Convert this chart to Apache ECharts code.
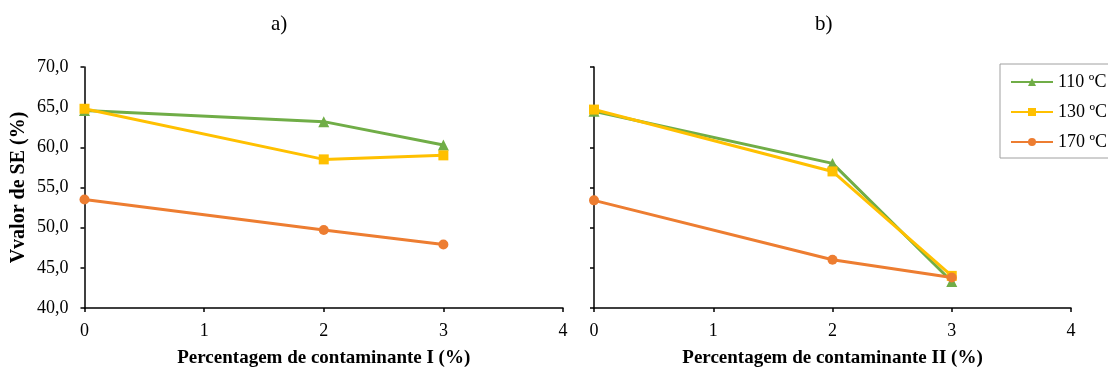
<!DOCTYPE html>
<html>
<head>
<meta charset="utf-8">
<script src="https://cdn.jsdelivr.net/npm/echarts@6/dist/echarts.min.js"></script>
<style>
  html, body { margin: 0; padding: 0; background: #fff; }
  #chart { width: 1108px; height: 374px; }
</style>
</head>
<body>
<div id="chart"></div>
<script>
// Contaminant percentage (%) on the x axis
const percentages = [0, 2, 3];
const seriesNames = ['110 ºC', '130 ºC', '170 ºC'];

// SE value (%) with contaminant I
const contI_110 = [64.6, 63.2, 60.3];
const contI_130 = [64.8, 58.5, 59.0];
const contI_170 = [53.5, 49.7, 47.9];

// SE value (%) with contaminant II
const contII_110 = [64.5, 58.0, 43.3];
const contII_130 = [64.7, 57.0, 44.0];
const contII_170 = [53.4, 46.0, 43.8];

const colors = ['#70AD47', '#FFC000', '#ED7D31'];
const symbols = ['triangle', 'rect', 'circle'];
const FONT = '"Liberation Serif", "Times New Roman", serif';

function pairs(values) {
  return percentages.map((p, i) => [p, values[i]]);
}

function lineSeries(idx, name, values, colorIdx) {
  return {
    name: name,
    type: 'line',
    xAxisIndex: idx,
    yAxisIndex: idx,
    data: pairs(values),
    symbol: symbols[colorIdx],
    symbolSize: colorIdx === 0 ? 11 : 10,
    color: colors[colorIdx],
    lineStyle: { width: 3, color: colors[colorIdx] },
    itemStyle: { color: colors[colorIdx] },
    animation: false,
    z: 2 + colorIdx
  };
}

const axisLineStyle = { show: true, lineStyle: { color: '#000', width: 1.5 } };
const tickStyle = { show: true, length: 4, inside: false, lineStyle: { color: '#000', width: 1.5 } };

function xAxis(idx, title) {
  return {
    type: 'value',
    gridIndex: idx,
    min: 0, max: 4, interval: 1,
    axisLine: axisLineStyle,
    axisTick: tickStyle,
    splitLine: { show: false },
    axisLabel: { fontFamily: FONT, fontSize: 18, color: '#000', margin: 14 },
    name: title,
    nameLocation: 'middle',
    nameGap: 41,
    nameTextStyle: { fontFamily: FONT, fontSize: 19, fontWeight: 'bold', color: '#000' }
  };
}

function yAxis(idx, showLabels) {
  return {
    type: 'value',
    gridIndex: idx,
    min: 40, max: 70, interval: 5,
    axisLine: axisLineStyle,
    axisTick: tickStyle,
    splitLine: { show: false },
    axisLabel: {
      show: showLabels,
      fontFamily: FONT, fontSize: 18, color: '#000', margin: 16,
      formatter: v => v.toFixed(1).replace('.', ',')
    },
    name: showLabels ? 'Vvalor de SE (%)' : '',
    nameLocation: 'middle',
    nameGap: 56,
    nameRotate: 90,
    nameTextStyle: { fontFamily: FONT, fontSize: 20, fontWeight: 'bold', color: '#000' }
  };
}

const chart = echarts.init(document.getElementById('chart'), null, { renderer: 'canvas' });
chart.setOption({
  backgroundColor: '#fff',
  animation: false,
  title: [
    { text: 'a)', left: 266, top: 9,
      textStyle: { fontFamily: FONT, fontSize: 21, fontWeight: 'normal', color: '#000' } },
    { text: 'b)', left: 810, top: 9,
      textStyle: { fontFamily: FONT, fontSize: 21, fontWeight: 'normal', color: '#000' } }
  ],
  legend: {
    data: seriesNames,
    orient: 'vertical',
    left: 1000, top: 64,
    padding: [9, 3, 7, 10],
    itemGap: 12,
    itemWidth: 42,
    itemHeight: 10,
    borderColor: '#a0a0a0',
    borderWidth: 1,
    textStyle: { fontFamily: FONT, fontSize: 18, color: '#000' }
  },
  grid: [
    { left: 84.5, top: 67, width: 478.5, height: 241 },
    { left: 594, top: 67, width: 477, height: 241 }
  ],
  xAxis: [
    xAxis(0, 'Percentagem de contaminante I (%)'),
    xAxis(1, 'Percentagem de contaminante II (%)')
  ],
  yAxis: [yAxis(0, true), yAxis(1, false)],
  series: [
    lineSeries(0, seriesNames[0], contI_110, 0),
    lineSeries(0, seriesNames[1], contI_130, 1),
    lineSeries(0, seriesNames[2], contI_170, 2),
    lineSeries(1, seriesNames[0], contII_110, 0),
    lineSeries(1, seriesNames[1], contII_130, 1),
    lineSeries(1, seriesNames[2], contII_170, 2)
  ]
});
</script>
</body>
</html>
